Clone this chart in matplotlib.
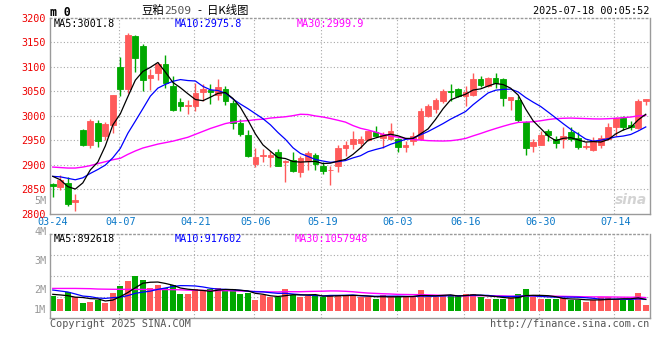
import numpy as np
import pandas as pd
import matplotlib
matplotlib.use("Agg")
import matplotlib.pyplot as plt

# ---------------- data ----------------
dates = ["03-24", "03-25", "03-26", "03-27", "03-28", "03-31",
         "04-01", "04-02", "04-03", "04-07", "04-08", "04-09", "04-10", "04-11",
         "04-14", "04-15", "04-16", "04-17", "04-18", "04-21", "04-22", "04-23",
         "04-24", "04-25", "04-28", "04-29", "04-30",
         "05-06", "05-07", "05-08", "05-09", "05-12", "05-13", "05-14", "05-15",
         "05-16", "05-19", "05-20", "05-21", "05-22", "05-23", "05-26", "05-27",
         "05-28", "05-29", "05-30",
         "06-03", "06-04", "06-05", "06-06", "06-09", "06-10", "06-11", "06-12",
         "06-13", "06-16", "06-17", "06-18", "06-19", "06-20", "06-23", "06-24",
         "06-25", "06-26", "06-27", "06-30",
         "07-01", "07-02", "07-03", "07-04", "07-07", "07-08", "07-09", "07-10",
         "07-11", "07-14", "07-15", "07-16", "07-17", "07-18"]

opens = [2861, 2854, 2863, 2823, 2971, 2941, 2986, 2959, 2982, 3100,
         3055, 3163, 3143, 3078, 3087, 3105, 3061, 3029, 3020, 3019,
         3048, 3053, 3042, 3054, 3026, 2985, 2960, 2902, 2918, 2915,
         2926, 2905, 2910, 2884, 2908, 2920, 2897, 2888, 2897, 2935,
         2943, 2945, 2950, 2967, 2954, 2952, 2952, 2936, 2949, 2952,
         3000, 3014, 3031, 3051, 3054, 3040, 3043, 3075, 3060, 3078,
         3075, 3033, 3033, 2988, 2939, 2941, 2969, 2952, 2952, 2967,
         2954, 2936, 2929, 2940, 2952, 2976, 2996, 2982, 2974, 3031]
highs = [2863, 2878, 2875, 2839, 2972, 2994, 2992, 2988, 3043, 3120,
         3169, 3165, 3147, 3095, 3110, 3124, 3082, 3036, 3033, 3067,
         3065, 3065, 3075, 3061, 3033, 2993, 2971, 2934, 2931, 2927,
         2931, 2910, 2926, 2918, 2927, 2924, 2905, 2897, 2940, 2948,
         2968, 2959, 2968, 2980, 2967, 2985, 2954, 2948, 2966, 3016,
         3024, 3036, 3054, 3065, 3056, 3061, 3088, 3082, 3079, 3088,
         3077, 3039, 3040, 2990, 2952, 2969, 2973, 2959, 2978, 2978,
         2967, 2946, 2956, 2960, 2986, 2997, 3000, 2990, 3035, 3035]
lows = [2833, 2848, 2815, 2805, 2939, 2933, 2937, 2950, 2964, 3041,
        3046, 3090, 3051, 3053, 3073, 3056, 3009, 3010, 3003, 3010,
        3031, 3024, 3033, 3022, 2973, 2959, 2916, 2895, 2905, 2895,
        2897, 2864, 2884, 2874, 2890, 2890, 2880, 2859, 2884, 2917,
        2931, 2934, 2948, 2958, 2934, 2951, 2926, 2926, 2941, 2950,
        2997, 3005, 3026, 3031, 3038, 3019, 3041, 3058, 3058, 3056,
        3020, 3012, 2988, 2920, 2925, 2940, 2948, 2935, 2934, 2948,
        2932, 2932, 2927, 2933, 2951, 2959, 2971, 2971, 2973, 3023]
closes = [2857, 2869, 2819, 2827, 2941, 2990, 2949, 2984, 3042, 3055,
          3165, 3118, 3073, 3084, 3105, 3067, 3012, 3019, 3022, 3046,
          3055, 3048, 3058, 3031, 2985, 2963, 2918, 2916, 2920, 2920,
          2898, 2908, 2886, 2914, 2924, 2901, 2886, 2890, 2935, 2941,
          2953, 2952, 2968, 2959, 2963, 2969, 2936, 2941, 2959, 3010,
          3020, 3033, 3050, 3049, 3041, 3048, 3075, 3062, 3078, 3067,
          3037, 3038, 2992, 2935, 2946, 2960, 2960, 2944, 2959, 2953,
          2937, 2938, 2949, 2954, 2978, 2995, 2978, 2976, 3031, 3035]
volumes = [1190000, 980000, 1490000, 1080000, 620000, 730000, 870000, 650000, 1440000, 2010000,
           2410000, 2820000, 2490000, 1840000, 2090000, 1840000, 2090000, 1360000, 1360000, 1790000,
           1630000, 1730000, 1840000, 1630000, 1760000, 1360000, 1440000, 870000, 1250000, 1140000,
           1080000, 1760000, 1270000, 1140000, 1190000, 1190000, 1140000, 1270000, 1270000, 1270000,
           1270000, 1080000, 1080000, 980000, 1270000, 1220000, 1140000, 1080000, 1080000, 1680000,
           1140000, 1080000, 1270000, 1270000, 1190000, 1360000, 1360000, 1140000, 950000, 950000,
           980000, 1080000, 1360000, 1760000, 1080000, 950000, 950000, 950000, 1060000, 870000,
           870000, 700000, 870000, 1080000, 1080000, 950000, 870000, 870000, 1440000, 460000]

# moving-average values before enough in-chart history exists
ma5_head = [2876, 2869, 2855, 2850]
ma10_head = [2876, 2875, 2872, 2869, 2873, 2882, 2890, 2899, 2914]
ma30_head = [2895, 2894, 2893, 2893, 2895, 2898, 2902, 2906, 2910, 2913,
             2921, 2928, 2934, 2938, 2942, 2945, 2948, 2952, 2956, 2962,
             2968, 2974, 2979, 2984, 2987, 2989, 2990, 2992, 2993]
vma5_head = [1330000, 1280000, 1220000, 1100000]
vma10_head = [1680000, 1600000, 1520000, 1360000, 1190000, 1140000, 1030000, 1000000, 1060000]
vma30_head = [1810000, 1810000, 1810000, 1810000, 1800000, 1790000, 1760000, 1750000, 1740000, 1740000,
              1730000, 1730000, 1730000, 1720000, 1720000, 1720000, 1710000, 1700000, 1670000, 1660000,
              1650000, 1640000, 1630000, 1630000, 1620000, 1600000, 1580000, 1560000, 1540000]

tick_dates = ["03-24", "04-07", "04-21", "05-06", "05-19", "06-03", "06-16", "06-30", "07-14"]
price_ticks = [2800, 2850, 2900, 2950, 3000, 3050, 3100, 3150, 3200]
price_legend = ["MA5:3001.8", "MA10:2975.8", "MA30:2999.9"]
vol_legend = ["MA5:892618", "MA10:917602", "MA30:1057948"]
vol_labels = ["5M", "4M", "3M", "2M", "1M"]
title_code = "2509"
title_name = "豆粕"
title_rest = "-  日K线图"
timestamp = "2025-07-18 00:05:52"

# ---------------- style ----------------
RED = "#ff5a5a"
GREEN = "#00a800"
GRID = "#a8a8a8"
SPINE = "#9a9a9a"
DATE_C = "#0a78c8"
MONO = "DejaVu Sans Mono"
CJK = ["Noto Sans CJK SC", "DejaVu Sans"]
FS = 7.3

W, H = 660, 360
fig = plt.figure(figsize=(W / 100, H / 100), dpi=100)
fig.patch.set_facecolor("white")


def fx(px):
    return px / W


def fy(py):
    return 1 - py / H


def ma(values, n, head):
    s = pd.Series(values, dtype=float).rolling(n).mean().to_numpy()
    s[: n - 1] = head
    return s


x = np.arange(len(closes))
o = np.array(opens, float)
c = np.array(closes, float)
hi = np.array(highs, float)
lo = np.array(lows, float)
v = np.array(volumes, float)
cols = np.where(c >= o, RED, GREEN)
tick_idx = [dates.index(d) for d in tick_dates]
xlim = (-0.37, 79.5)

L, R = 50, 649.5
ax_p = fig.add_axes([fx(L), fy(213.5), fx(R) - fx(L), fy(18) - fy(213.5)])
ax_v = fig.add_axes([fx(L), fy(318.3), fx(R) - fx(L), fy(234.3) - fy(318.3)])

dot = (0, (1, 2))

# ---- price panel ----
ax_p.set_xlim(*xlim)
ax_p.set_ylim(2800, 3200)
for p in price_ticks[1:-1]:
    ax_p.axhline(p, color=GRID, lw=0.8, ls=dot, zorder=0)
for t in tick_idx[1:]:
    ax_p.axvline(t - 0.2, color=GRID, lw=0.8, ls=dot, zorder=0)

ax_p.vlines(x, lo, hi, colors=cols, lw=1.0, zorder=2)
ax_p.bar(x, np.abs(c - o), bottom=np.minimum(o, c), width=0.76, color=cols,
         edgecolor=cols, linewidth=0.6, zorder=3)
ax_p.plot(x, ma(c, 30, ma30_head), color="#ff00ff", lw=1.0, zorder=4)
ax_p.plot(x, ma(c, 10, ma10_head), color="#0000ff", lw=0.9, zorder=5)
ax_p.plot(x, ma(c, 5, ma5_head), color="#000000", lw=0.9, zorder=6)

ax_p.set_yticks(price_ticks)
ax_p.set_yticklabels([str(p) for p in price_ticks], color="#ee0000",
                     fontfamily=MONO, fontsize=FS)
ax_p.set_xticks(tick_idx)
ax_p.set_xticklabels(tick_dates, color=DATE_C, fontfamily=MONO, fontsize=FS)
ax_p.tick_params(axis="y", length=0, pad=3.0)
ax_p.tick_params(axis="x", length=0, pad=2.2)
for s in ax_p.spines.values():
    s.set_color(SPINE)
    s.set_linewidth(1.0)
ax_p.spines["top"].set_linestyle(dot)

# ---- volume panel ----
vlo, vhi = -618000, 6210000
ax_v.set_xlim(*xlim)
ax_v.set_ylim(vlo, vhi)
for g in np.linspace(vlo, vhi, 5)[1:-1]:
    ax_v.axhline(g, color=GRID, lw=0.8, ls=dot, zorder=0)
for t in tick_idx[1:]:
    ax_v.axvline(t - 0.2, color=GRID, lw=0.8, ls=dot, zorder=0)
ax_v.bar(x, v, width=0.8, color=cols, linewidth=0, zorder=2)
ax_v.plot(x, ma(v, 30, vma30_head), color="#ff00ff", lw=1.0, zorder=4)
ax_v.plot(x, ma(v, 10, vma10_head), color="#0000ff", lw=0.9, zorder=5)
ax_v.plot(x, ma(v, 5, vma5_head), color="#000000", lw=0.9, zorder=6)
ax_v.set_xticks([])
ax_v.set_yticks([])
for s in ax_v.spines.values():
    s.set_color(SPINE)
    s.set_linewidth(1.0)
ax_v.spines["top"].set_linestyle(dot)

# volume axis labels as drawn on the reference
for lab, py in zip(vol_labels, [200.5, 231.5, 261, 290, 310]):
    fig.text(fx(46.5), fy(py), lab, ha="right", va="center", color="#999999",
             fontfamily=MONO, fontsize=FS)

# legends
for lab, px, col in zip(price_legend, [54, 175, 297], ["#000000", "#0000ff", "#ff00ff"]):
    fig.text(fx(px), fy(24), lab, ha="left", va="center", color=col,
             fontfamily=MONO, fontsize=FS)
for lab, px, col in zip(vol_legend, [54, 175, 295], ["#000000", "#0000ff", "#ff00ff"]):
    fig.text(fx(px), fy(238.5), lab, ha="left", va="center", color=col,
             fontfamily=MONO, fontsize=FS)

# header
fig.text(fx(50.5), fy(12), "m 0", ha="left", va="center", color="black",
         fontfamily=MONO, fontweight="bold", fontsize=FS + 1.0)
fig.text(fx(141), fy(10.5), title_name, ha="left", va="center", color="black",
         fontfamily=CJK, fontsize=8.2)
fig.text(fx(164), fy(10.5), title_code, ha="left", va="center", color="#555555",
         fontfamily=MONO, fontsize=FS + 0.8)
fig.text(fx(198), fy(10.5), title_rest, ha="left", va="center", color="black",
         fontfamily=CJK, fontsize=8.2)
fig.text(fx(649), fy(11), timestamp, ha="right", va="center", color="black",
         fontfamily=MONO, fontsize=FS)

# footer
fig.text(fx(50), fy(324), "Copyright 2025 SINA.COM", ha="left", va="center",
         color="#555555", fontfamily=MONO, fontsize=FS)
fig.text(fx(649), fy(324), "http://finance.sina.com.cn", ha="right", va="center",
         color="#555555", fontfamily=MONO, fontsize=FS)

# watermark
fig.text(fx(647), fy(200), "sina", ha="right", va="center", color="#cfcfcf",
         fontstyle="italic", fontweight="bold", fontsize=10, alpha=0.9)

fig.savefig("out.png", dpi=100, facecolor="white")
